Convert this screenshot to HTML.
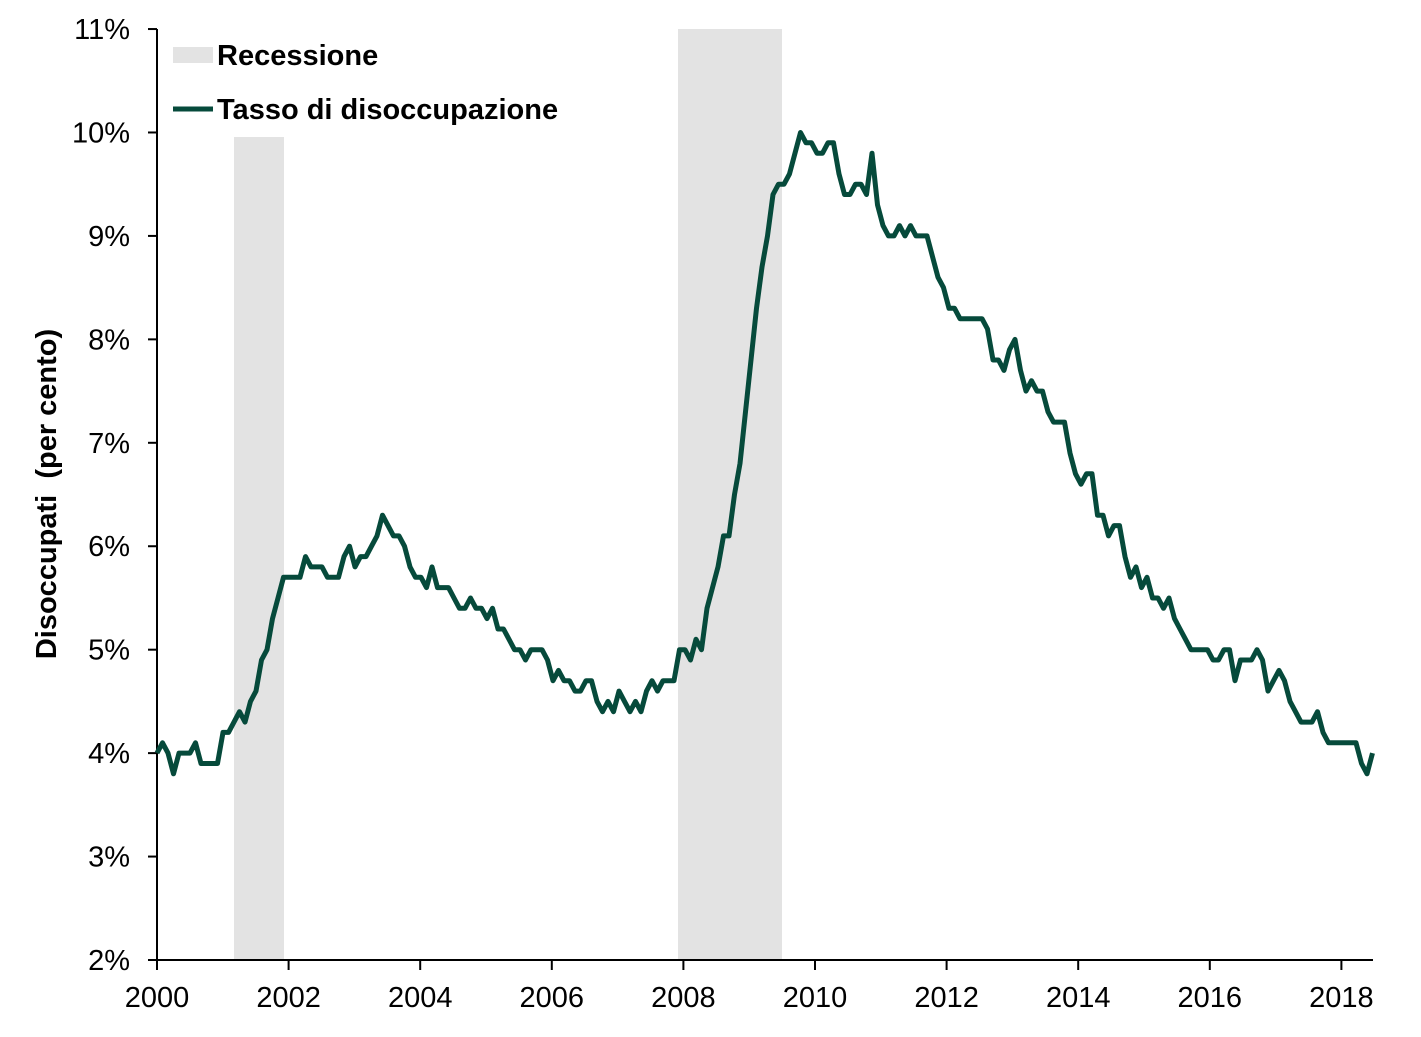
<!DOCTYPE html>
<html><head><meta charset="utf-8"><style>
html,body{margin:0;padding:0;background:#fff}
svg text{font-family:"Liberation Sans",Arial,sans-serif}
</style></head><body>
<svg id="s" width="1421" height="1032" xmlns="http://www.w3.org/2000/svg">
<rect x="234" y="137" width="50" height="823" fill="#e3e3e3"/>
<rect x="678" y="29" width="104" height="931" fill="#e3e3e3"/>
<g id="ax" stroke="#000" stroke-width="2" fill="none">
<line x1="157" y1="29" x2="157" y2="961"/>
<line x1="148" y1="960" x2="1373" y2="960"/>
</g>
<g id="lbl" font-size="29" fill="#000"></g>
<text transform="translate(56,494) rotate(-90)" text-anchor="middle" font-size="29" font-weight="bold" xml:space="preserve">Disoccupati  (per cento)</text>
<rect x="173" y="47" width="40" height="16" fill="#e3e3e3"/>
<text x="217" y="65" font-size="29" font-weight="bold">Recessione</text>
<line x1="173" y1="109" x2="213" y2="109" stroke="#064a3b" stroke-width="5"/>
<text x="217" y="119" font-size="29" font-weight="bold">Tasso di disoccupazione</text>
<polyline id="ln" fill="none" stroke="#064a3b" stroke-width="5" stroke-linejoin="round"/>
</svg>
<script>
var d=[4.0,4.1,4.0,3.8,4.0,4.0,4.0,4.1,3.9,3.9,3.9,3.9,
4.2,4.2,4.3,4.4,4.3,4.5,4.6,4.9,5.0,5.3,5.5,5.7,
5.7,5.7,5.7,5.9,5.8,5.8,5.8,5.7,5.7,5.7,5.9,6.0,
5.8,5.9,5.9,6.0,6.1,6.3,6.2,6.1,6.1,6.0,5.8,5.7,
5.7,5.6,5.8,5.6,5.6,5.6,5.5,5.4,5.4,5.5,5.4,5.4,
5.3,5.4,5.2,5.2,5.1,5.0,5.0,4.9,5.0,5.0,5.0,4.9,
4.7,4.8,4.7,4.7,4.6,4.6,4.7,4.7,4.5,4.4,4.5,4.4,
4.6,4.5,4.4,4.5,4.4,4.6,4.7,4.6,4.7,4.7,4.7,5.0,
5.0,4.9,5.1,5.0,5.4,5.6,5.8,6.1,6.1,6.5,6.8,7.3,
7.8,8.3,8.7,9.0,9.4,9.5,9.5,9.6,9.8,10.0,9.9,9.9,
9.8,9.8,9.9,9.9,9.6,9.4,9.4,9.5,9.5,9.4,9.8,9.3,
9.1,9.0,9.0,9.1,9.0,9.1,9.0,9.0,9.0,8.8,8.6,8.5,
8.3,8.3,8.2,8.2,8.2,8.2,8.2,8.1,7.8,7.8,7.7,7.9,
8.0,7.7,7.5,7.6,7.5,7.5,7.3,7.2,7.2,7.2,6.9,6.7,
6.6,6.7,6.7,6.3,6.3,6.1,6.2,6.2,5.9,5.7,5.8,5.6,
5.7,5.5,5.5,5.4,5.5,5.3,5.2,5.1,5.0,5.0,5.0,5.0,
4.9,4.9,5.0,5.0,4.7,4.9,4.9,4.9,5.0,4.9,4.6,4.7,
4.8,4.7,4.5,4.4,4.3,4.3,4.3,4.4,4.2,4.1,4.1,4.1,
4.1,4.1,4.1,3.9,3.8,4.0];
function X(m){return 157+m*5.5}
function XL(m){return 157+m*65.8/12}
function Y(v){return 960-(v-2)*103.44}
var p=d.map(function(v,i){return X(i).toFixed(1)+","+Y(v).toFixed(1)}).join(" ");
document.getElementById("ln").setAttribute("points",p);
var ns="http://www.w3.org/2000/svg",ax=document.getElementById("ax"),lb=document.getElementById("lbl");
function el(p,t,a){var e=document.createElementNS(ns,t);for(var k in a)e.setAttribute(k,a[k]);p.appendChild(e);return e}
for(var v=2;v<=11;v++){var y=Y(v);el(ax,"line",{x1:148,y1:y,x2:157,y2:y});var t=el(lb,"text",{x:130,y:y+10,"text-anchor":"end"});t.textContent=v+"%";}
for(var yr=2000;yr<=2018;yr+=2){var x=XL((yr-2000)*12);el(ax,"line",{x1:x,y1:960,x2:x,y2:970});var t=el(lb,"text",{x:x,y:1007,"text-anchor":"middle"});t.textContent=yr;}
</script>
</body></html>
